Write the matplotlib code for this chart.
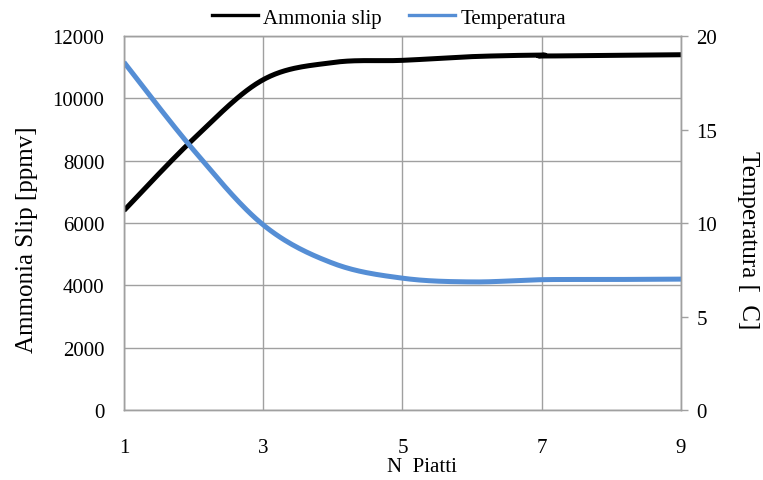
import numpy as np
import matplotlib
matplotlib.use('Agg')
import matplotlib.pyplot as plt
from matplotlib.lines import Line2D

# data
piatti = [1, 2, 3, 4, 5, 6, 7, 7, 8, 9]
ammonia_slip = [6400, 8700, 10600, 11150, 11220, 11340, 11390, 11360, 11380, 11400]
temp_x = [1, 2, 3, 4, 5, 6, 7, 8, 9]
temperatura = [18.6, 13.9, 9.9, 7.85, 7.05, 6.85, 6.97, 6.98, 7.0]

x_ticks = [1, 3, 5, 7, 9]
left_ticks = [0, 2000, 4000, 6000, 8000, 10000, 12000]
right_ticks = [0, 5, 10, 15, 20]


def smooth(xs, ys, n=30):
    """Excel-like smoothed line (Catmull-Rom as cubic Bezier)"""
    px = np.array(xs, dtype=float)
    py = np.array(ys, dtype=float)
    out_x, out_y = [], []
    t = np.linspace(0, 1, n)
    for i in range(len(px) - 1):
        i0 = max(i - 1, 0)
        i3 = min(i + 2, len(px) - 1)
        p0 = np.array([px[i], py[i]])
        p3 = np.array([px[i + 1], py[i + 1]])
        p1 = p0 + (p3 - np.array([px[i0], py[i0]])) / 6
        p2 = p3 - (np.array([px[i3], py[i3]]) - p0) / 6
        b = ((1 - t) ** 3)[:, None] * p0 + (3 * (1 - t) ** 2 * t)[:, None] * p1 \
            + (3 * (1 - t) * t ** 2)[:, None] * p2 + (t ** 3)[:, None] * p3
        out_x.extend(b[:, 0])
        out_y.extend(b[:, 1])
    return out_x, out_y


plt.rcParams['font.family'] = ['Liberation Serif', 'DejaVu Serif']
grid_col = '#a0a0a0'
blue = '#558ed5'

fig = plt.figure(figsize=(7.63, 4.81), dpi=100)
ax = fig.add_axes([0.1625, 0.1455, 0.73, 0.7775])
ax2 = ax.twinx()

sx, sy = smooth(piatti, ammonia_slip)
ax.plot(sx, sy, color='black', linewidth=3.6, solid_capstyle='butt')
tx, ty = smooth(temp_x, temperatura)
ax2.plot(tx, ty, color=blue, linewidth=3.6, solid_capstyle='butt')

ax.set_xlim(1, 9)
ax.set_ylim(0, 12000)
ax2.set_ylim(0, 20)
ax.set_xticks(x_ticks)
ax.set_yticks(left_ticks)
ax2.set_yticks(right_ticks)

ax.grid(True, color=grid_col, linewidth=1.0)
ax.set_axisbelow(True)
for a in (ax, ax2):
    for s in a.spines.values():
        s.set_color(grid_col)
        s.set_linewidth(1.0)

ax.tick_params(axis='x', length=0, pad=20, labelsize=15)
ax.tick_params(axis='y', length=0, pad=14, labelsize=15)
ax2.tick_params(axis='y', length=5, width=1.0, color=grid_col, pad=6, labelsize=15)

ax.set_xlabel('N  Piatti', fontsize=15)
ax.xaxis.set_label_coords(0.535, -0.125)
ax.set_ylabel('Ammonia Slip [ppmv]', fontsize=18)
ax.yaxis.set_label_coords(-0.155, 0.457)
ax2.set_ylabel('Temperatura [  C]', fontsize=18, rotation=270, va='center')
ax2.yaxis.set_label_coords(1.12, 0.457)

handles = [Line2D([], [], color='black', linewidth=2.4),
           Line2D([], [], color=blue, linewidth=2.4)]
fig.legend(handles=handles, labels=['Ammonia slip', 'Temperatura'], loc='upper center',
           bbox_to_anchor=(0.51, 1.02), ncol=2, frameon=False, fontsize=15,
           handlelength=2.2, handletextpad=0.25, columnspacing=1.3)

plt.savefig('out.png', dpi=100)
